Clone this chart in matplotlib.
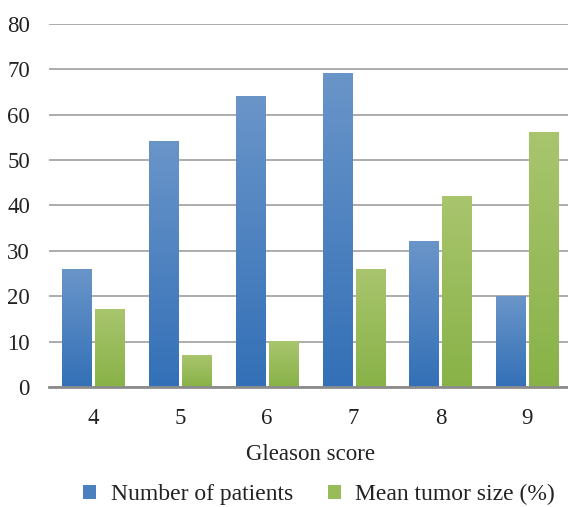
import matplotlib
matplotlib.use("Agg")
from matplotlib import pyplot
from matplotlib.colors import LinearSegmentedColormap
from matplotlib.patches import Patch
from numpy import arange, linspace

categories = ["4", "5", "6", "7", "8", "9"]
patients = [26, 54, 64, 69, 32, 20]
tumor_size = [17, 7, 10, 26, 42, 56]
series_names = ["Number of patients", "Mean tumor size (%)"]
y_ticks = [0, 10, 20, 30, 40, 50, 60, 70, 80]

pyplot.rcParams["font.family"] = ["Liberation Serif", "DejaVu Serif"]

fig = pyplot.figure(figsize=(5.68, 5.07), dpi=100)
ax = fig.add_axes([0.087, 0.2367, 0.918, 0.716])

blue_map = LinearSegmentedColormap.from_list("blue", ["#3370b7", "#6a95c9"])
green_map = LinearSegmentedColormap.from_list("green", ["#88b247", "#a9c56e"])

x = arange(len(categories))
width = 0.335
offset = 0.19
gradient = linspace(0, 1, 256).reshape(-1, 1)

for values, shift, cmap in [
    (patients, -offset, blue_map),
    (tumor_size, offset, green_map),
]:
    for xi, v in zip(x, values):
        ax.imshow(
            gradient,
            cmap=cmap,
            origin="lower",
            aspect="auto",
            extent=(xi + shift - width / 2, xi + shift + width / 2, 0, v),
            zorder=3,
        )

ax.set_xlim(-0.5, len(categories) - 0.5)
ax.set_ylim(0, 80)
ax.set_yticks(y_ticks)
ax.set_xticks(x)
ax.set_xticklabels(categories)
ax.yaxis.grid(True, color="#a6a6a6", linewidth=1.3)
ax.set_axisbelow(True)
for side in ["top", "right", "left"]:
    ax.spines[side].set_visible(False)
ax.spines["bottom"].set_color("#8c8c8c")
ax.spines["bottom"].set_linewidth(2)
ax.spines["bottom"].set_zorder(4)
ax.tick_params(length=0, labelsize=16.5, colors="#222222")
ax.tick_params(axis="x", pad=15)
ax.tick_params(axis="y", pad=14)
ax.set_xlabel("Gleason score", fontsize=16.5, color="#222222", labelpad=11)

handles = [
    Patch(facecolor="#4a80c0", edgecolor="none"),
    Patch(facecolor="#98bc58", edgecolor="none"),
]
fig.legend(
    handles,
    series_names,
    loc="center",
    bbox_to_anchor=(0.562, 0.024),
    ncol=2,
    frameon=False,
    fontsize=17,
    handlelength=0.55,
    handleheight=0.55,
    handletextpad=0.6,
    columnspacing=1.5,
    labelcolor="#222222",
)

pyplot.savefig("out.png", dpi=100)
